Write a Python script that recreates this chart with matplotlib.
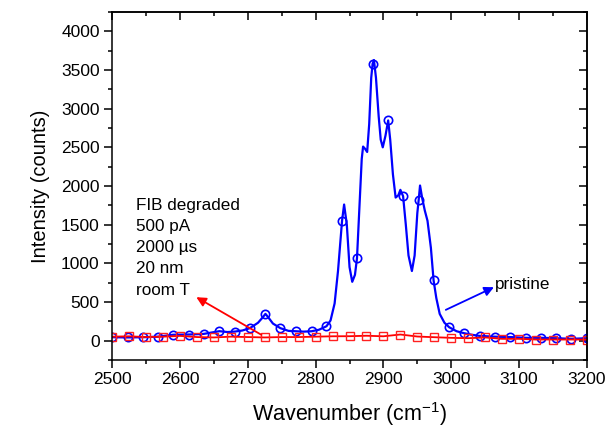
import numpy as np
import matplotlib
matplotlib.use("Agg")
import matplotlib.pyplot as plt
from matplotlib.ticker import MultipleLocator

plt.rcParams['font.family'] = ['Liberation Sans', 'DejaVu Sans']
plt.rcParams['mathtext.default'] = 'regular'

# pristine spectrum (line points)
wn_pristine = [2500, 2523, 2545, 2568, 2590, 2613, 2635, 2658, 2670, 2681, 2692, 2703,
               2715, 2722, 2726, 2731, 2737, 2748, 2760, 2771, 2782, 2794, 2805, 2816, 2822, 2828,
               2833, 2839, 2842, 2846, 2850, 2854, 2858, 2861, 2865, 2868, 2870, 2873,
               2876, 2879, 2882, 2884, 2886, 2889, 2893, 2896, 2899, 2903, 2907, 2910,
               2914, 2918, 2922, 2925, 2929, 2933, 2937, 2942, 2946, 2950, 2952, 2954,
               2957, 2961, 2965, 2970, 2974, 2978, 2983, 2990, 2997, 3008, 3019, 3030,
               3042, 3064, 3087, 3110, 3132, 3155, 3177, 3200]
int_pristine = [43, 40, 43, 50, 75, 78, 86, 121, 110, 116, 130, 160,
                230, 300, 345, 290, 220, 160, 125, 120, 115, 120, 140, 185, 260, 480,
                900, 1553, 1760, 1500, 950, 760, 850, 1065, 1800, 2350, 2510, 2480,
                2440, 2800, 3400, 3580, 3630, 3400, 2900, 2600, 2500, 2650, 2848, 2600,
                2150, 1850, 1880, 1950, 1868, 1500, 1100, 900, 1100, 1650, 1821, 2006,
                1850, 1683, 1550, 1200, 777, 550, 345, 230, 172, 120, 95, 75,
                60, 50, 45, 35, 35, 30, 22, 30]
# circle markers
wn_pristine_mk = [2500, 2523, 2545, 2568, 2590, 2613, 2635, 2658, 2681, 2703, 2726, 2748,
                  2771, 2794, 2816, 2839, 2861, 2884, 2907, 2929, 2952, 2974, 2997, 3019,
                  3042, 3064, 3087, 3110, 3132, 3155, 3177, 3200]
int_pristine_mk = [43, 40, 43, 50, 75, 78, 86, 121, 116, 160, 345, 160,
                   120, 120, 185, 1553, 1065, 3580, 2848, 1868, 1821, 777, 172, 95,
                   60, 50, 45, 35, 35, 30, 22, 30]

# FIB degraded spectrum
wn_fib = [2500, 2525, 2550, 2575, 2600, 2625, 2650, 2675, 2700, 2725, 2750, 2775, 2800,
          2825, 2850, 2875, 2900, 2925, 2950, 2975, 3000, 3025, 3050, 3075, 3100, 3125,
          3150, 3175, 3200]
int_fib = [50, 55, 45, 50, 60, 45, 40, 50, 45, 40, 45, 45, 50,
           55, 56, 62, 55, 78, 52, 43, 35, 30, 40, 22, 22, 13,
           13, 13, 13]

fig = plt.figure(figsize=(6.1, 4.32), dpi=100)
ax = fig.add_axes([0.184, 0.167, 0.778, 0.805])

ax.plot(wn_pristine, int_pristine, color='#0000ff', lw=1.6)
ax.plot(wn_pristine_mk, int_pristine_mk, ls='none', marker='o', ms=6, mfc='none',
        mec='#0000ff', mew=1.2)
ax.plot(wn_fib, int_fib, color='#ff0000', lw=1.3, marker='s', ms=6, mfc='none',
        mec='#ff2020', mew=1.0)

ax.set_xlim(2500, 3200)
ax.set_ylim(-250, 4250)
ax.xaxis.set_major_locator(MultipleLocator(100))
ax.xaxis.set_minor_locator(MultipleLocator(50))
ax.yaxis.set_major_locator(MultipleLocator(500))
ax.yaxis.set_minor_locator(MultipleLocator(250))
ax.tick_params(which='major', direction='out', length=6, width=1.1, labelsize=12.5,
               pad=3)
ax.tick_params(which='minor', direction='out', length=3, width=1.1)
for s in ax.spines.values():
    s.set_linewidth(1.1)

# mirrored ticks pointing inwards on top and right
top = ax.secondary_xaxis('top')
top.xaxis.set_major_locator(MultipleLocator(100))
top.xaxis.set_minor_locator(MultipleLocator(50))
top.tick_params(which='major', direction='in', length=6, width=1.1, labeltop=False)
top.tick_params(which='minor', direction='in', length=3, width=1.1)
right = ax.secondary_yaxis('right')
right.yaxis.set_major_locator(MultipleLocator(500))
right.yaxis.set_minor_locator(MultipleLocator(250))
right.tick_params(which='major', direction='in', length=6, width=1.1, labelright=False)
right.tick_params(which='minor', direction='in', length=3, width=1.1)
top.spines['top'].set_linewidth(1.1)
right.spines['right'].set_linewidth(1.1)

ax.set_xlabel('Wavenumber (cm$^{-1}$)', fontsize=15.5, labelpad=9)
ax.set_ylabel('Intensity (counts)', fontsize=14.5, labelpad=8)

ax.text(2535, 1850, 'FIB degraded\n500 pA\n2000 µs\n20 nm\nroom T', fontsize=12.3,
        va='top', ha='left', linespacing=1.52)
ax.text(3064, 669, 'pristine', fontsize=12.3, va='baseline', ha='left')

ax.annotate('', xy=(2624, 561), xytext=(2720, 74),
            arrowprops=dict(arrowstyle='-|>', color='#ff0000', lw=1.3, mutation_scale=14,
                            shrinkA=0, shrinkB=0))
ax.annotate('', xy=(3063, 690), xytext=(2992, 397),
            arrowprops=dict(arrowstyle='-|>', color='#0000ff', lw=1.3, mutation_scale=14,
                            shrinkA=0, shrinkB=0))

fig.savefig('out.png', dpi=100)
